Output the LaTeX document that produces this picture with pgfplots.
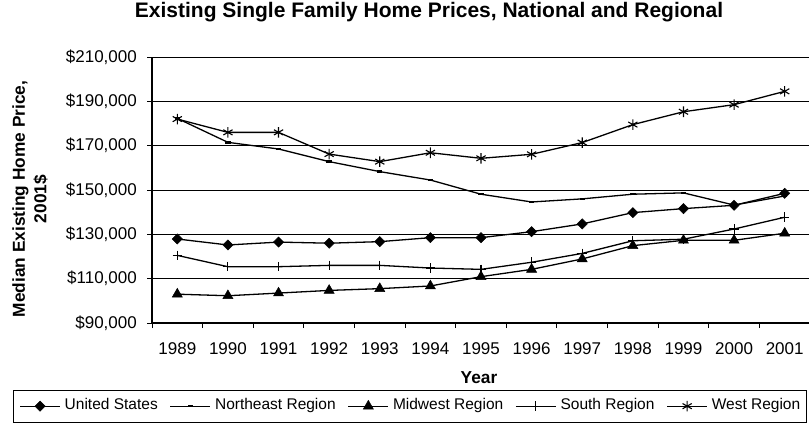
\documentclass[border=0pt]{standalone}
\usepackage{fontspec}
\setmainfont{Liberation Sans}
\usepackage{pgfplots}
\pgfplotsset{compat=1.18}
\begin{document}
\begin{tikzpicture}
\path[use as bounding box] (0,0) rectangle (809pt,424pt);
\begin{axis}[
  at={(152pt,101pt)}, anchor=south west,
  scale only axis, width=658pt, height=266pt,
  xmin=1988.5, xmax=2001.5, ymin=90000, ymax=210000,
  axis lines*=left,
  axis line style={line width=1.2pt},
  tick align=outside,
  major tick length=5pt,
  tick style={black, line width=0.8pt},
  xtick={1988.5,1989.5,...,2001.5}, xticklabels={},
  extra x ticks={1989,1990,...,2001},
  extra x tick labels={1989,1990,1991,1992,1993,1994,1995,1996,1997,1998,1999,2000,2001},
  extra x tick style={major tick length=0pt},
  ytick={90000,110000,...,210000},
  yticklabels={{\$90,000},{\$110,000},{\$130,000},{\$150,000},{\$170,000},{\$190,000},{\$210,000}},
  scaled y ticks=false,
  ymajorgrids, grid style={black, line width=0.8pt},
  ticklabel style={font=\fontsize{17}{20}\selectfont},
  xticklabel style={inner sep=0pt, anchor=north, yshift=-19pt},
  yticklabel style={inner sep=0pt, anchor=east, xshift=-10pt},
  title={Existing Single Family Home Prices, National and Regional},
  title style={at={(axis description cs:0.421,1)}, anchor=base, yshift=33.7pt, inner sep=0pt, font=\fontsize{21}{25}\selectfont\bfseries},
  xlabel={Year},
  xlabel style={at={(axis description cs:0.497,0)}, anchor=center, yshift=-55pt, font=\fontsize{17.3}{20}\selectfont\bfseries},
  ylabel={Median Existing Home Price,\\2001\$},
  ylabel style={at={(axis description cs:-0.1854,0.466)}, anchor=center, align=center, font=\fontsize{17.3}{21.6}\selectfont\bfseries},
  legend columns=5,
  legend image code/.code={\draw[mark repeat=2,mark phase=2] plot coordinates {(0pt,0pt)(20pt,0pt)(40pt,0pt)};},
  legend style={at={(axis description cs:-0.2112,-0.2519)}, anchor=north west, draw=black, line width=0.8pt,
    inner xsep=6pt, inner ysep=8.5pt,
    font=\fontsize{15.5}{18}\selectfont,
    nodes={inner sep=0pt, text height=11pt, text depth=3.5pt},
    /tikz/every odd column/.append style={column sep=4pt},
    /tikz/every even column/.append style={column sep=12pt}},
]
\addplot[black, line width=1.3pt, mark=square*, mark size=3.6pt, mark options={solid, fill=black, rotate=45, line width=0.5pt}] coordinates {
(1989,127900) (1990,125200) (1991,126500) (1992,126000) (1993,126700) (1994,128500) (1995,128500)
(1996,131200) (1997,134700) (1998,139800) (1999,141600) (2000,143100) (2001,148500)};
\addlegendentry{United States}
\addplot[black, line width=1.3pt, mark=-, mark size=2.7pt, mark options={solid, line width=2.4pt}] coordinates {
(1989,182300) (1990,171500) (1991,168500) (1992,162800) (1993,158300) (1994,154500) (1995,148100)
(1996,144600) (1997,146000) (1998,148100) (1999,148700) (2000,143200) (2001,147300)};
\addlegendentry{Northeast Region}
\addplot[black, line width=1.3pt, mark=triangle*, mark size=5.8pt, mark options={solid, fill=black, line width=0.5pt}] coordinates {
(1989,103000) (1990,102300) (1991,103500) (1992,104700) (1993,105500) (1994,106700) (1995,110900)
(1996,114200) (1997,118900) (1998,124900) (1999,127300) (2000,127300) (2001,130500)};
\addlegendentry{Midwest Region}
\addplot[black, line width=1.3pt, mark=+, mark size=4.8pt, mark options={solid, line width=1.1pt}] coordinates {
(1989,120500) (1990,115400) (1991,115400) (1992,116000) (1993,116000) (1994,114800) (1995,114200)
(1996,117400) (1997,121400) (1998,127100) (1999,127800) (2000,132400) (2001,137700)};
\addlegendentry{South Region}
\addplot[black, line width=1.3pt, mark=asterisk, mark size=5.3pt, mark options={solid, line width=1.1pt}] coordinates {
(1989,182000) (1990,176000) (1991,176000) (1992,166200) (1993,162800) (1994,166800) (1995,164300)
(1996,166100) (1997,171400) (1998,179500) (1999,185300) (2000,188500) (2001,194500)};
\addlegendentry{West Region}
\end{axis}
\end{tikzpicture}
\end{document}
